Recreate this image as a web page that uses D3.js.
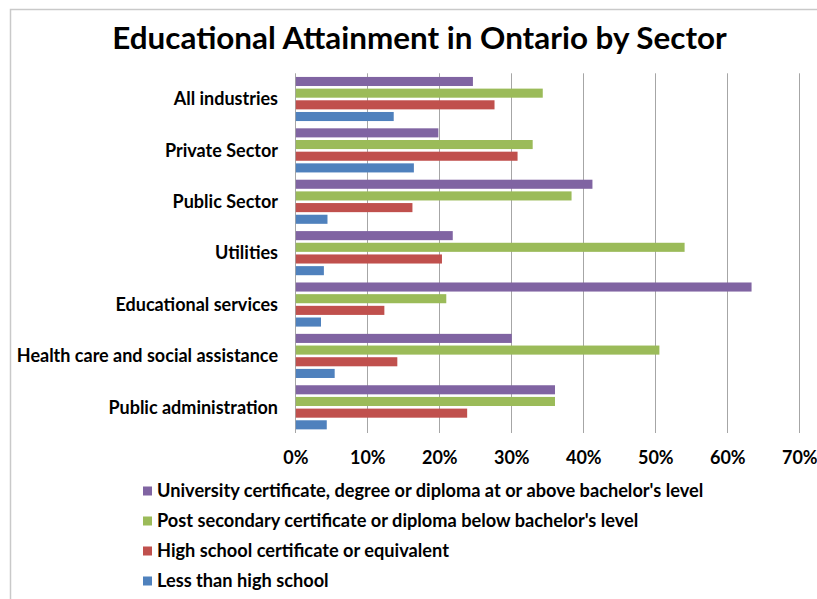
<!DOCTYPE html>
<html>
<head>
<meta charset="utf-8">
<script src="https://cdn.jsdelivr.net/npm/d3@7"></script>
<style>
  html, body { margin: 0; padding: 0; background: #fff; }
  svg { display: block; }
  text { font-family: Lato, "Open Sans", sans-serif; font-weight: 700; fill: #000; }
</style>
</head>
<body>
<script>
// Sectors, listed top to bottom
const sectors = [
  "All industries",
  "Private Sector",
  "Public Sector",
  "Utilities",
  "Educational services",
  "Health care and social assistance",
  "Public administration"
];

// Series names, in the order drawn within each sector (top to bottom)
const seriesNames = [
  "University certificate, degree or diploma at or above bachelor's level",
  "Post secondary certificate or diploma below bachelor's level",
  "High school certificate or equivalent",
  "Less than high school"
];
const seriesColors = ["#8064A2", "#9BBB59", "#C0504D", "#4F81BD"];

// Share of workers (%) per sector, one array per series
const university   = [24.6, 19.8, 41.2, 21.8, 63.3, 30.0, 36.0];
const postSecondary = [34.3, 32.9, 38.3, 54.0, 20.9, 50.5, 36.0];
const highSchool   = [27.6, 30.8, 16.2, 20.3, 12.3, 14.1, 23.8];
const lessThanHS   = [13.6, 16.4,  4.4,  3.9,  3.5,  5.4,  4.3];

const tickValues = [0, 10, 20, 30, 40, 50, 60, 70];

const seriesValues = [university, postSecondary, highSchool, lessThanHS];

const W = 817, H = 599;
const svg = d3.select("body").append("svg").attr("width", W).attr("height", H);

// Chart frame
svg.append("rect")
  .attr("x", 10.5).attr("y", 9.5)
  .attr("width", W + 20).attr("height", H + 20)
  .attr("fill", "none").attr("stroke", "#c9c9c9").attr("stroke-width", 1.5);

// Title
svg.append("text")
  .attr("x", 419.5).attr("y", 49)
  .attr("text-anchor", "middle")
  .style("font-size", "31.4px")
  .text("Educational Attainment in Ontario by Sector");

const plot = { left: 295.3, right: 799.3, top: 73.3, bottom: 433 };

const x = d3.scaleLinear().domain([0, 70]).range([plot.left, plot.right]);
const y0 = d3.scaleBand().domain(sectors).range([plot.top, plot.bottom]).padding(0);
const y1 = d3.scaleBand().domain(d3.range(seriesNames.length))
  .range([0, y0.bandwidth()]).paddingInner(0).paddingOuter(0.2);

// Vertical gridlines (including the value axis at 0)
svg.append("g").selectAll("line")
  .data(tickValues)
  .join("line")
  .attr("x1", d => Math.round(x(d)) + 0.5).attr("x2", d => Math.round(x(d)) + 0.5)
  .attr("y1", plot.top).attr("y2", plot.bottom)
  .attr("stroke", "#a6a6a6").attr("stroke-width", 1);

// Bars
const groups = svg.append("g").selectAll("g")
  .data(sectors)
  .join("g")
  .attr("transform", d => `translate(0,${y0(d)})`);

groups.selectAll("rect")
  .data((d, i) => seriesValues.map((vals, s) => ({ s, v: vals[i] })))
  .join("rect")
  .attr("x", x(0) + 0.5)
  .attr("y", d => y1(d.s) + 1.3)
  .attr("width", d => x(d.v) - x(0))
  .attr("height", y1.bandwidth() - 2.6)
  .attr("fill", d => seriesColors[d.s]);

// Category labels
svg.append("g").selectAll("text")
  .data(sectors)
  .join("text")
  .attr("x", 278)
  .attr("y", d => y0(d) + y0.bandwidth() / 2)
  .attr("dy", "0.35em")
  .attr("text-anchor", "end")
  .style("font-size", "18px")
  .text(d => d);

// Value axis labels
const xAxis = d3.axisBottom(x)
  .tickValues(tickValues)
  .tickFormat(d => d + "%")
  .tickSize(0)
  .tickPadding(0);
const axisG = svg.append("g")
  .attr("transform", `translate(0,${plot.bottom})`)
  .call(xAxis);
axisG.select(".domain").remove();
axisG.selectAll("text")
  .attr("y", 25).attr("dy", "0.35em")
  .style("font-size", "18px")
  .style("font-family", "Lato, sans-serif")
  .attr("fill", "#000");

// Legend
const legend = svg.append("g").selectAll("g")
  .data(seriesNames)
  .join("g")
  .attr("transform", (d, i) => `translate(143,${491 + i * 30})`);
legend.append("rect")
  .attr("x", 0).attr("y", -4.5)
  .attr("width", 9).attr("height", 9)
  .attr("fill", (d, i) => seriesColors[i]);
legend.append("text")
  .attr("x", 14).attr("y", 0).attr("dy", "0.35em")
  .style("font-size", "18.2px")
  .text(d => d);
</script>
</body>
</html>
